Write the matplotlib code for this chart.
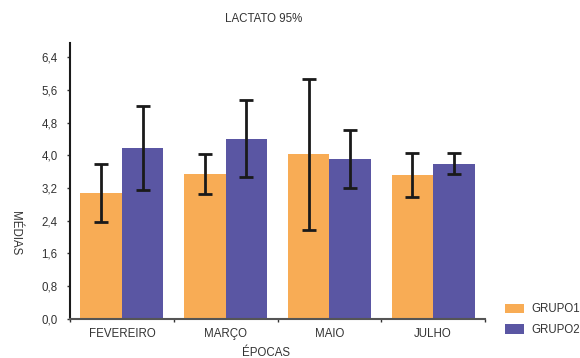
import matplotlib
matplotlib.use("Agg")
import matplotlib.pyplot as plt
import numpy as np
from matplotlib.patches import Patch

plt.rcParams['font.family'] = ['Liberation Sans', 'DejaVu Sans']

epocas = ["FEVEREIRO", "MARÇO", "MAIO", "JULHO"]
grupo1 = [3.08, 3.54, 4.03, 3.52]
grupo2 = [4.17, 4.41, 3.91, 3.80]
erro1 = [0.70, 0.49, 1.85, 0.55]
erro2 = [1.03, 0.95, 0.72, 0.26]
yticks = [0.0, 0.8, 1.6, 2.4, 3.2, 4.0, 4.8, 5.6, 6.4]
ytick_labels = ["0,0", "0,8", "1,6", "2,4", "3,2", "4,0", "4,8", "5,6", "6,4"]

cor1 = "#F8AC55"
cor2 = "#5A56A3"
texto = "#333333"
fs = 8.3

fig = plt.figure(figsize=(5.8, 3.58), dpi=100)
ax = fig.add_axes([0.1207, 0.1098, 0.7155, 0.7709])

x = np.arange(len(epocas))
w = 0.4
err_kw = dict(ecolor="#1a1a1a", elinewidth=2.0, capsize=5, capthick=2.0)
ax.bar(x - w / 2, grupo1, width=w, color=cor1, yerr=erro1, error_kw=err_kw, zorder=2)
ax.bar(x + w / 2, grupo2, width=w, color=cor2, yerr=erro2, error_kw=err_kw, zorder=2)

ax.set_xlim(-0.5, len(epocas) - 0.5)
ax.set_ylim(0, 6.76)
ax.set_yticks(yticks)
ax.set_yticklabels(ytick_labels)
ax.set_xticks(x)
ax.set_xticklabels(epocas)
ax.set_xticks(np.arange(len(epocas) + 1) - 0.5, minor=True)

ax.tick_params(axis="x", which="major", length=0, pad=7, labelsize=fs, labelcolor=texto)
ax.tick_params(axis="x", which="minor", length=2, width=1, color="#333333")
ax.tick_params(axis="y", length=2, width=1, color="#333333", labelsize=fs, labelcolor=texto, pad=7)

for s in ["top", "right"]:
    ax.spines[s].set_visible(False)
ax.spines["left"].set_color("#1a1a1a")
ax.spines["left"].set_linewidth(1.5)
ax.spines["bottom"].set_color("#555555")
ax.spines["bottom"].set_linewidth(1.5)

fig.text(263.5 / 580, 1 - 19.3 / 358, "LACTATO 95%", ha="center", va="center", fontsize=fs, color=texto)
fig.text(266 / 580, 1 - 353 / 358, "ÉPOCAS", ha="center", va="center", fontsize=fs, color=texto)
fig.text(15 / 580, 1 - 233 / 358, "MÉDIAS", ha="center", va="center", rotation=270, fontsize=fs, color=texto)

handles = [Patch(facecolor=cor1, label="GRUPO1"), Patch(facecolor=cor2, label="GRUPO2")]
fig.legend(handles=handles, loc="lower left", bbox_to_anchor=(505 / 580, 1 - 336 / 358), frameon=False,
           fontsize=fs, labelcolor=texto, handlelength=1.65, handleheight=0.9,
           handletextpad=0.65, labelspacing=0.75, borderpad=0, borderaxespad=0)

fig.savefig("out.png", dpi=100)
